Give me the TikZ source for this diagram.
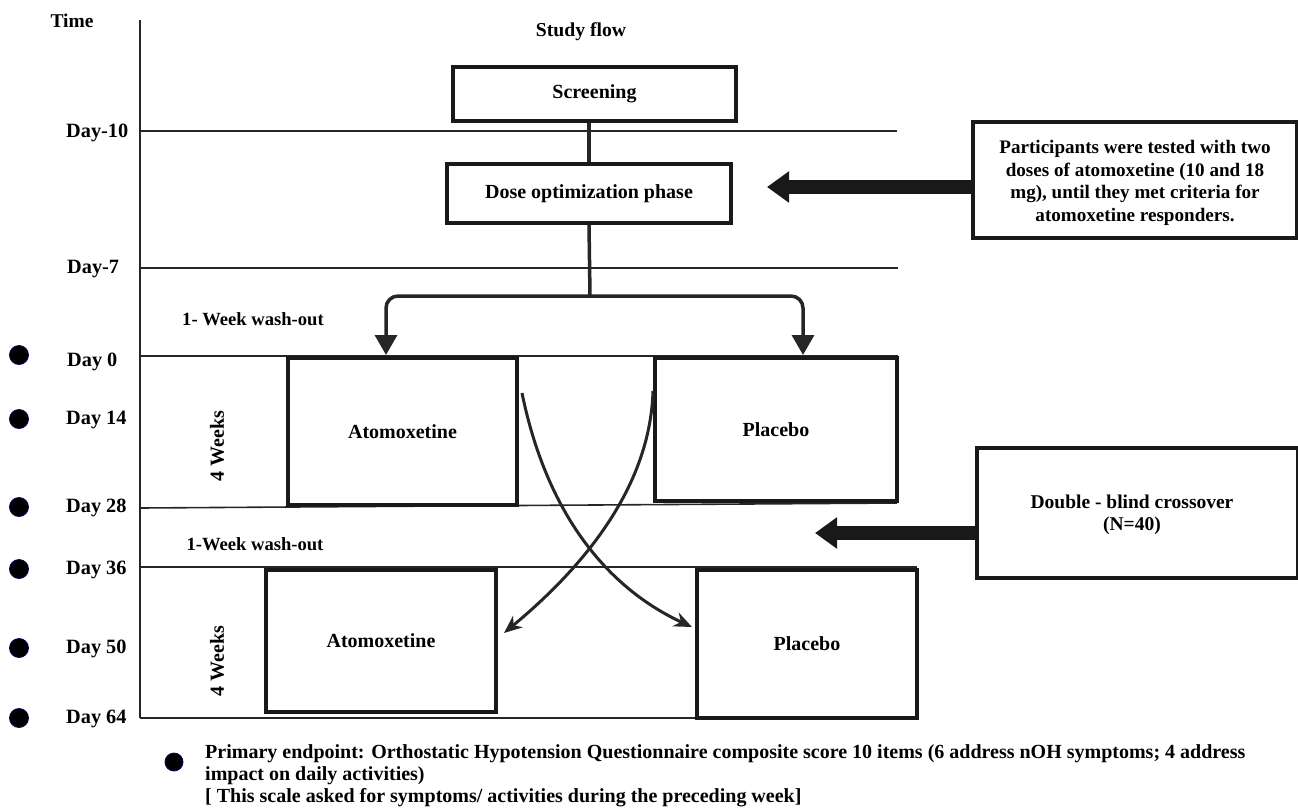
\documentclass[tikz,border=0pt]{standalone}
\usepackage{fontspec}
\setmainfont{Liberation Serif}
\usetikzlibrary{arrows.meta,calc}
\begin{document}
\begin{tikzpicture}[x=1pt,y=-1pt,
  txt/.style={font=\bfseries\fontsize{20}{22}\selectfont},
  daylbl/.style={font=\bfseries\fontsize{20.3}{22}\selectfont,anchor=west,inner sep=0pt},
  grid/.style={line width=1.6pt,draw=black!85},
  box/.style={draw=black!90,line width=4pt,inner sep=0pt,align=center,font=\bfseries\fontsize{20}{22}\selectfont},
  conn/.style={line width=3.5pt,draw=black!85},
  flowarrow/.style={line width=3.5pt,draw=black!85,-{Triangle[length=20pt,width=22pt]}},
  cross/.style={line width=3pt,draw=black!85,-{Stealth[length=18pt,width=15pt]}},
  bigarrow/.style={line width=14pt,draw=black!90,-{Triangle[length=22pt,width=30pt]}},
  dot/.style={circle,fill=black,draw=blue!35!black,line width=0.8pt,minimum size=19pt,inner sep=0pt}
]
\useasboundingbox (0,0) rectangle (1298,809);

% time axis
\draw[grid] (140,20) -- (140,718);
\node[txt,font=\bfseries\fontsize{19.5}{21}\selectfont] (time) at (72,21) {Time};
\node[txt,font=\bfseries\fontsize{19.7}{21}\selectfont] (sf) at (581,32) {Study flow};

% horizontal day lines
\draw[grid] (140,131) -- (897,131);
\draw[grid] (140,268) -- (898,268);
\draw[grid] (140,356) -- (898,356);
\draw[grid] (140,508) -- (897,503);
\draw[grid] (140,567) -- (917,567);
\draw[grid] (140,718) -- (697,718);

% day labels
\node[daylbl] (d10) at (66,133) {Day-10};
\node[daylbl] (d7) at (67,269) {Day-7};
\node[daylbl] (d0) at (67,362) {Day 0};
\node[daylbl] (d14) at (66,420) {Day 14};
\node[daylbl] (d28) at (66,508) {Day 28};
\node[daylbl] (d36) at (66,570) {Day 36};
\node[daylbl] (d50) at (66,649) {Day 50};
\node[daylbl] (d64) at (66,719) {Day 64};

% dots
\node[dot] (b0) at (19,355) {};
\node[dot] (b14) at (19,419) {};
\node[dot] (b28) at (19,507) {};
\node[dot] (b36) at (19,569) {};
\node[dot] (b50) at (19,648) {};
\node[dot] (b64) at (19,718) {};

% period labels
\node[txt,font=\bfseries\fontsize{18.6}{20}\selectfont] (wo1) at (253,319) {1- Week wash-out};
\node[txt,font=\bfseries\fontsize{18.6}{20}\selectfont] (wo2) at (255,544) {1-Week wash-out};
\node[txt,rotate=90] (w1) at (217,446) {4 Weeks};
\node[txt,rotate=90] (w2) at (217,661) {4 Weeks};

% boxes
\node[box,minimum width=283pt,minimum height=54pt] (scr) at (594.5,94) {Screening};
\node[box,minimum width=284pt,minimum height=59pt] (dose) at (589,193.5) {Dose optimization phase};
\node[box,minimum width=229pt,minimum height=147pt] (a1) at (402.5,431.5) {Atomoxetine};
\node[box,minimum width=242pt,minimum height=143pt] (p1) at (776,429.5) {Placebo};
\node[box,minimum width=230pt,minimum height=142pt] (a2) at (381,641) {Atomoxetine};
\node[box,minimum width=220pt,minimum height=148pt] (p2) at (807,644) {Placebo};
\node[box,minimum width=324pt,minimum height=116pt] (part) at (1135,180) {};
\node[align=center,inner sep=0pt,font=\bfseries\fontsize{19.1}{22.7}\selectfont] (partt) at (1135,183)
  {Participants were tested with two\\doses of atomoxetine (10 and 18\\mg), until they met criteria for\\atomoxetine responders.};
\node[box,minimum width=321pt,minimum height=130pt] (db) at (1137.5,513) {};
\node[align=center,inner sep=0pt,font=\bfseries\fontsize{19.5}{22}\selectfont] (dbt) at (1132,515)
  {Double - blind crossover\\(N=40)};

% flow connectors
\draw[conn] (dose.north |- scr.south) -- (dose.north);
\coordinate (split) at (590,296);
\draw[conn] (dose.south) -- (split);
\coordinate (tA) at (386,355);
\coordinate (tP) at (803,355);
\draw[flowarrow,rounded corners=12pt] (split) -| (tA);
\draw[flowarrow,rounded corners=12pt] (split) -| (tP);

% crossover curves
\coordinate (c1s) at ($(a1.north east)+(3,37)$);
\coordinate (c1e) at (692,627);
\coordinate (c2s) at ($(p1.north west)+(0,35)$);
\coordinate (c2e) at (504,633);
\draw[cross] (c1s) .. controls (548,520) and (612,590) .. (c1e);
\draw[cross] (c2s) .. controls (650,490) and (580,570) .. (c2e);

% big side arrows
\coordinate (ta1) at (767,187);
\draw[bigarrow] (part.west |- ta1) -- (ta1);
\coordinate (ta2) at (815,533);
\draw[bigarrow] (db.west |- ta2) -- (ta2);

% bottom note
\node[dot,minimum size=18pt] (bn) at (174,762) {};
\node[anchor=north west,inner sep=0pt,align=left,font=\bfseries\fontsize{20}{22}\selectfont] (note) at (205,744)
  {Primary endpoint: Orthostatic Hypotension Questionnaire composite score 10 items (6 address nOH symptoms; 4 address\\
   impact on daily activities)\\
   {[} This scale asked for symptoms/ activities during the preceding week{]}};
\end{tikzpicture}
\end{document}
